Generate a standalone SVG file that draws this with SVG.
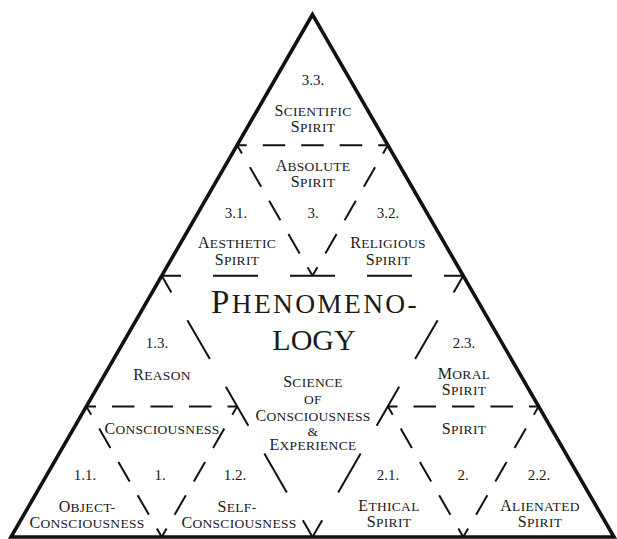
<svg xmlns="http://www.w3.org/2000/svg" width="617" height="539" viewBox="0 0 617 539">
<style>
.outer{fill:none;stroke:#111;stroke-width:3.6;stroke-linejoin:miter}
.d1{fill:none;stroke:#111;stroke-width:2;stroke-dasharray:45 32;stroke-dashoffset:25.75}
.d2{fill:none;stroke:#111;stroke-width:2;stroke-dasharray:22.5 16;stroke-dashoffset:12.9}
text{font-family:"Liberation Serif","Times New Roman",serif;fill:#1a1a1a;text-anchor:middle}
.l{font-size:13.5px;letter-spacing:0.3px}
.b{font-size:16px}
.n{font-size:15px}
.t{font-size:27.5px;letter-spacing:2.3px}
.tb{font-size:33px}
</style>
<rect width="617" height="539" fill="#fff"/>
<g id="frame">
<polygon class="outer" points="312.5,14.5 11,537 614,537"/>
</g>
<g id="connectors">
<line class="d1" x1="161.75" y1="275.75" x2="463.25" y2="275.75"/>
<line class="d1" x1="161.75" y1="275.75" x2="312.5" y2="537"/>
<line class="d1" x1="463.25" y1="275.75" x2="312.5" y2="537"/>
<line class="d2" x1="237.125" y1="145.125" x2="387.875" y2="145.125"/>
<line class="d2" x1="237.125" y1="145.125" x2="312.5" y2="275.75"/>
<line class="d2" x1="387.875" y1="145.125" x2="312.5" y2="275.75"/>
<line class="d2" x1="86.375" y1="406.375" x2="237.125" y2="406.375"/>
<line class="d2" x1="86.375" y1="406.375" x2="161.75" y2="537"/>
<line class="d2" x1="237.125" y1="406.375" x2="161.75" y2="537"/>
<line class="d2" x1="387.875" y1="406.375" x2="538.625" y2="406.375"/>
<line class="d2" x1="387.875" y1="406.375" x2="463.25" y2="537"/>
<line class="d2" x1="538.625" y1="406.375" x2="463.25" y2="537"/>
</g>
<g id="n33">
<text class="n" x="313" y="85">3.3.</text>
<text class="l" x="313" y="116"><tspan class="b">S</tspan>CIENTIFIC</text>
<text class="l" x="313" y="132"><tspan class="b">S</tspan>PIRIT</text>
</g>
<g id="n3">
<text class="l" x="313" y="171"><tspan class="b">A</tspan>BSOLUTE</text>
<text class="l" x="313" y="187"><tspan class="b">S</tspan>PIRIT</text>
<text class="n" x="313" y="218">3.</text>
</g>
<g id="n31">
<text class="n" x="236" y="218">3.1.</text>
<text class="l" x="237" y="248"><tspan class="b">A</tspan>ESTHETIC</text>
<text class="l" x="237" y="265"><tspan class="b">S</tspan>PIRIT</text>
</g>
<g id="n32">
<text class="n" x="388" y="218">3.2.</text>
<text class="l" x="388" y="248"><tspan class="b">R</tspan>ELIGIOUS</text>
<text class="l" x="388" y="265"><tspan class="b">S</tspan>PIRIT</text>
</g>
<g id="phenomenology">
<text class="t" x="315" y="313"><tspan class="tb">P</tspan>HENOMENO-</text>
<text x="314" y="350" font-size="30">LOGY</text>
<text class="l" x="313" y="387"><tspan class="b">S</tspan>CIENCE</text>
<text class="l" x="313" y="404">OF</text>
<text class="l" x="313" y="421"><tspan class="b">C</tspan>ONSCIOUSNESS</text>
<text class="l" x="313" y="436">&amp;</text>
<text class="l" x="313" y="450"><tspan class="b">E</tspan>XPERIENCE</text>
</g>
<g id="n13">
<text class="n" x="157" y="348">1.3.</text>
<text class="l" x="162" y="380"><tspan class="b">R</tspan>EASON</text>
</g>
<g id="n1">
<text class="l" x="162" y="434"><tspan class="b">C</tspan>ONSCIOUSNESS</text>
<text class="n" x="160" y="480">1.</text>
</g>
<g id="n11">
<text class="n" x="85" y="480">1.1.</text>
<text class="l" x="87" y="512"><tspan class="b">O</tspan>BJECT-</text>
<text class="l" x="87" y="528"><tspan class="b">C</tspan>ONSCIOUSNESS</text>
</g>
<g id="n12">
<text class="n" x="235" y="480">1.2.</text>
<text class="l" x="237" y="512"><tspan class="b">S</tspan>ELF-</text>
<text class="l" x="239" y="528"><tspan class="b">C</tspan>ONSCIOUSNESS</text>
</g>
<g id="n23">
<text class="n" x="464" y="348">2.3.</text>
<text class="l" x="464" y="379"><tspan class="b">M</tspan>ORAL</text>
<text class="l" x="464" y="395"><tspan class="b">S</tspan>PIRIT</text>
</g>
<g id="n2">
<text class="l" x="464" y="434"><tspan class="b">S</tspan>PIRIT</text>
<text class="n" x="463" y="480">2.</text>
</g>
<g id="n21">
<text class="n" x="388" y="480">2.1.</text>
<text class="l" x="389" y="511"><tspan class="b">E</tspan>THICAL</text>
<text class="l" x="389" y="527"><tspan class="b">S</tspan>PIRIT</text>
</g>
<g id="n22">
<text class="n" x="539" y="480">2.2.</text>
<text class="l" x="540" y="511"><tspan class="b">A</tspan>LIENATED</text>
<text class="l" x="540" y="527"><tspan class="b">S</tspan>PIRIT</text>
</g>
</svg>
